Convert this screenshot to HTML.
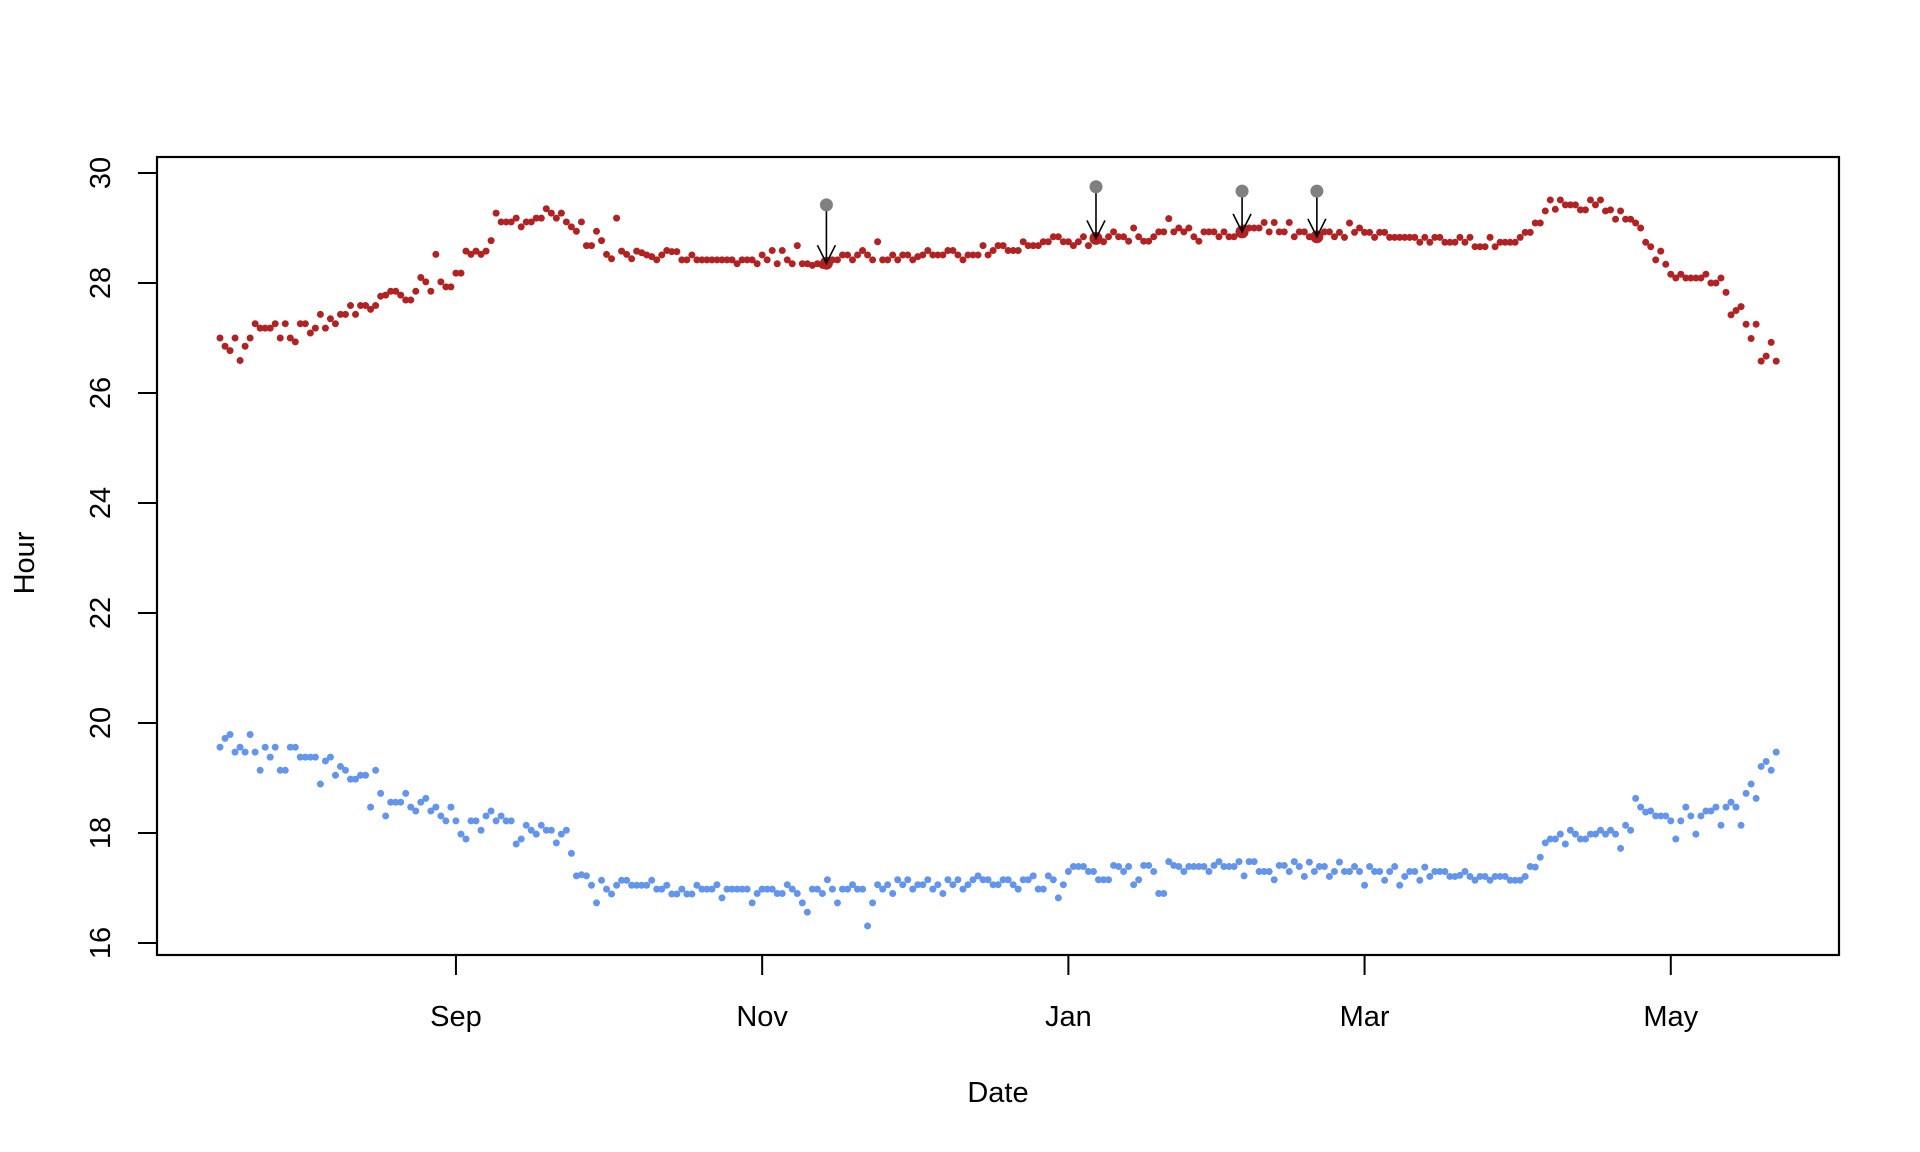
<!DOCTYPE html>
<html><head><meta charset="utf-8"><style>
html,body{margin:0;padding:0;background:#fff;}
svg{display:block;}
text{font-family:"Liberation Sans",Arial,sans-serif;fill:#000;}
</style></head><body>
<svg id="chart" width="1920" height="1152" viewBox="0 0 1920 1152" xmlns="http://www.w3.org/2000/svg">
<rect x="0" y="0" width="1920" height="1152" fill="#fff"/>
<g id="marks"></g>
<rect x="157" y="157" width="1682" height="798" fill="none" stroke="#000" stroke-width="2.2"/>
<g id="axes"></g>
<text x="998" y="1102" font-size="29" text-anchor="middle">Date</text>
<text x="0" y="0" font-size="29" text-anchor="middle" transform="translate(34,563) rotate(-90)">Hour</text>
</svg>
<script>
const yTicks = [16,18,20,22,24,26,28,30];
const monthLabels = ["Sep","Nov","Jan","Mar","May"];
const monthDays = [47,108,169,228,289];
const redValues = [
27.0,26.85,26.77,27.0,26.59,26.85,27.0,27.26,27.18,27.18,
27.18,27.26,27.0,27.26,27.0,26.93,27.26,27.26,27.09,27.18,
27.43,27.18,27.35,27.26,27.43,27.43,27.59,27.43,27.59,27.59,
27.52,27.59,27.76,27.78,27.85,27.85,27.78,27.69,27.69,27.85,
28.1,28.02,27.85,28.52,28.02,27.93,27.93,28.18,28.18,28.58,
28.52,28.58,28.52,28.58,28.77,29.27,29.11,29.11,29.11,29.18,
29.02,29.11,29.11,29.18,29.18,29.35,29.27,29.18,29.27,29.11,
29.02,28.94,29.11,28.68,28.68,28.94,28.77,28.52,28.44,29.18,
28.58,28.52,28.44,28.58,
28.55,28.51,28.48,28.42,28.51,28.59,28.57,28.57,28.42,28.42,
28.51,28.42,28.42,28.42,28.42,28.42,28.42,28.42,28.42,28.35,
28.42,28.42,28.42,28.35,28.51,28.42,28.59,28.35,28.59,28.42,
28.35,28.68,28.35,28.35,28.32,28.35,28.32,28.35,28.42,28.42,
28.51,28.51,28.42,28.51,28.59,28.51,28.42,28.75,28.42,28.42,
28.51,28.42,28.51,28.51,28.42,28.48,28.51,28.59,28.51,28.51,
28.51,28.59,28.59,28.51,28.42,28.51,28.51,28.51,28.68,28.51,
28.59,28.68,28.68,28.59,28.59,28.59,28.75,28.68,28.68,28.68,
28.75,28.75,28.84,28.84,28.75,28.75,28.68,28.75,28.84,28.68,
28.84,28.8,28.75,28.84,28.93,28.84,28.84,28.76,29.0,28.84,
28.76,28.76,28.84,28.93,28.93,29.17,28.93,29.0,28.93,29.0,
28.84,28.76,28.93,28.93,28.93,28.84,28.93,28.84,28.84,28.93,
29.0,29.0,29.0,29.0,29.1,28.93,29.1,28.93,28.93,29.1,
28.84,28.93,28.93,28.84,28.84,28.84,28.93,28.93,28.84,
28.92,28.83,29.09,28.92,29.0,28.92,28.92,28.83,28.92,28.92,
28.83,28.83,28.83,28.83,28.83,28.83,28.74,28.83,28.74,28.83,
28.83,28.74,28.74,28.74,28.83,28.74,28.83,28.66,28.66,28.66,
28.83,28.66,28.74,28.74,28.74,28.74,28.83,28.92,28.92,29.09,
29.09,29.31,29.51,29.34,29.51,29.42,29.42,29.42,29.33,29.33,
29.51,29.42,29.51,29.31,29.33,29.16,29.31,29.16,29.16,29.09,
29.0,28.74,28.66,28.42,28.58,28.34,28.16,28.09,28.16,28.09,
28.09,28.09,28.09,28.16,28.0,28.0,28.09,27.83,27.42,27.5,
27.57,27.25,26.99,27.25,26.58,26.67,26.92,26.58
];
const blueValues = [
19.56,19.72,19.79,19.47,19.56,19.47,19.79,19.47,19.14,19.56,
19.38,19.56,19.14,19.14,19.56,19.56,19.38,19.38,19.38,19.38,
18.89,19.31,19.38,19.05,19.21,19.14,18.98,18.98,19.05,19.05,
18.47,19.14,18.72,18.31,18.56,18.56,18.56,18.72,18.47,18.4,
18.56,18.63,18.4,18.47,18.31,18.22,18.47,18.22,17.98,17.89,
18.22,18.22,18.05,18.31,18.4,18.22,18.31,18.22,18.22,17.8,
17.89,18.14,18.05,17.98,18.14,18.05,18.05,17.82,17.98,18.05,
17.63,17.22,17.24,17.22,17.05,16.73,17.14,16.98,16.89,17.05,
17.14,17.14,17.05,17.05,17.05,17.05,17.14,16.98,16.98,17.05,
16.89,16.89,16.98,16.89,16.89,17.05,16.98,
16.98,16.98,17.06,16.82,16.98,16.98,16.98,16.98,16.98,16.73,
16.9,16.98,16.98,16.98,16.9,16.9,17.06,16.98,16.9,16.73,
16.56,16.98,16.98,16.9,17.15,16.98,16.73,16.98,16.98,17.06,
16.98,16.98,16.31,16.73,17.06,16.98,17.06,16.9,17.15,17.06,
17.15,16.98,17.06,17.06,17.15,16.98,17.06,16.9,17.15,17.06,
17.15,16.98,17.06,17.15,17.22,17.15,17.15,17.06,17.06,17.15,
17.15,17.06,16.98,17.15,17.15,17.22,16.98,16.98,17.22,17.15,
16.82,17.06,17.3,17.39,17.39,17.39,17.3,17.3,17.15,17.15,
17.15,17.41,17.39,17.3,17.39,17.06,17.15,17.41,17.41,17.3,
16.9,16.9,17.48,17.41,17.39,17.3,17.39,17.39,17.39,17.39,
17.3,17.41,17.48,17.39,17.39,17.39,17.48,17.22,17.48,17.48,
17.3,17.3,17.3,17.15,17.41,17.41,17.3,17.48,17.39,
17.21,17.47,17.3,17.39,17.39,17.21,17.3,17.47,17.3,17.3,
17.39,17.3,17.05,17.39,17.3,17.3,17.14,17.3,17.39,17.05,
17.21,17.3,17.3,17.14,17.38,17.21,17.3,17.3,17.3,17.21,
17.21,17.23,17.3,17.21,17.14,17.21,17.21,17.14,17.21,17.21,
17.21,17.14,17.14,17.14,17.21,17.39,17.38,17.56,17.82,17.89,
17.89,17.98,17.8,18.05,17.98,17.89,17.89,17.98,17.98,18.05,
17.98,18.05,17.98,17.72,18.14,18.05,18.63,18.47,18.38,18.4,
18.31,18.31,18.31,18.22,17.89,18.22,18.47,18.31,17.98,18.31,
18.4,18.4,18.47,18.14,18.47,18.56,18.47,18.14,18.72,18.89,
18.63,19.21,19.3,19.14,19.47
];
const annotDays = [120.8,174.5,203.6,218.5];
const annotFrom = [29.42,29.75,29.67,29.67];
const annotTo = [28.36,28.81,28.93,28.84];

const NS = "http://www.w3.org/2000/svg";
function xScale(d){ return 220 + d*5.02; }
function yScale(v){ return 173 + (30 - v)*55; }
function mk(tag, attrs, parent){
  const e = document.createElementNS(NS, tag);
  for (const k in attrs) e.setAttribute(k, attrs[k]);
  parent.appendChild(e);
  return e;
}
const marks = document.getElementById('marks');
const axes = document.getElementById('axes');

yTicks.forEach(function(v){
  const t = mk('line',{x1:138,y1:yScale(v),x2:157,y2:yScale(v),stroke:'#000','stroke-width':2}, axes);
  
  
  const lb = mk('text',{x:0,y:0,'font-size':29,'text-anchor':'middle',transform:'translate(110,'+yScale(v)+') rotate(-90)'}, axes);
  lb.textContent = String(v);
  
  
});
monthDays.forEach(function(d,i){
  const t = mk('line',{x1:xScale(d),y1:955,x2:xScale(d),y2:975,stroke:'#000','stroke-width':2}, axes);
  
  
  const lb = mk('text',{x:xScale(d),y:1026,'font-size':29,'text-anchor':'middle'}, axes);
  lb.textContent = monthLabels[i];
  
  
});

redValues.forEach(function(v,d){
  if (v == null) return;
  const c = mk('circle',{cx:xScale(d),cy:yScale(v),r:3.5,fill:'#B22222'}, marks);
  
  
});
blueValues.forEach(function(v,d){
  if (v == null) return;
  const c = mk('circle',{cx:xScale(d),cy:yScale(v),r:3.5,fill:'#6495ED'}, marks);
  
  
});

annotDays.forEach(function(d,i){
  const x = xScale(d), y1 = yScale(annotFrom[i]), y2 = yScale(annotTo[i]);
  const big = mk('circle',{cx:x,cy:y2,r:6.5,fill:'#B22222'}, marks);
  
  
  const ln = mk('line',{x1:x,y1:y1,x2:x,y2:y2,stroke:'#000','stroke-width':1.6}, marks);
  
  
  const ah = mk('path',{d:'M'+(x-9)+','+(y2-18)+' L'+x+','+y2+' L'+(x+9)+','+(y2-18),fill:'none',stroke:'#000','stroke-width':1.6}, marks);
  
  
  const g = mk('circle',{cx:x,cy:y1,r:6.5,fill:'#808080'}, marks);
  
  
});
</script>
</body></html>
